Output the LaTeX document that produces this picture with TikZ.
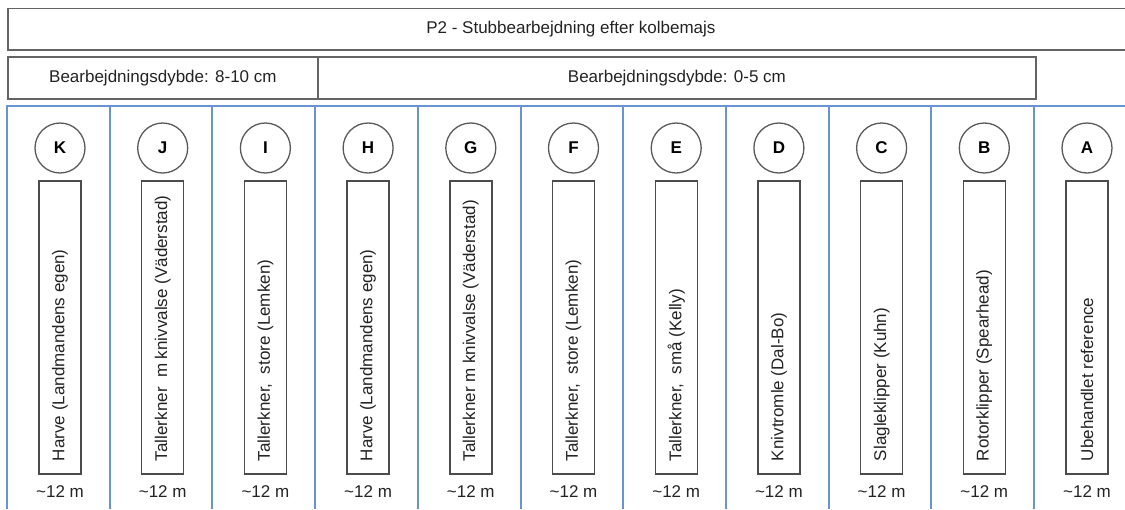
\documentclass[tikz,border=0pt]{standalone}
\usepackage{fontspec}
\setmainfont{Liberation Sans}
\definecolor{colblue}{RGB}{105,148,210}
\definecolor{boxgray}{RGB}{100,100,100}
\definecolor{txt}{RGB}{35,35,35}
\tikzset{
  graybox/.style={draw=boxgray, line width=1.8pt, inner sep=0pt, text=txt},
  colline/.style={draw=colblue, line width=2pt},
  circ/.style={circle, draw=black!65, line width=1.3pt, minimum size=50pt, inner sep=0pt, font=\fontsize{17}{20}\selectfont\bfseries, text=black},
  vbox/.style={draw=black!70, line width=1.4pt, rotate=90, minimum width=293pt, minimum height=42pt, inner ysep=0pt, inner xsep=13pt, text=txt},
  lenlbl/.style={inner sep=0pt, text=txt}
}
\begin{document}
\begin{tikzpicture}[x=1pt, y=-1pt, font=\fontsize{17}{20}\selectfont]
\useasboundingbox (0,0) rectangle (1125,509);
\clip (0,0) rectangle (1125,509);
% header rows
\node[graybox, minimum width=1126pt, minimum height=41.5pt, anchor=north west] (title) at (7,7.5) {P2 - Stubbearbejdning efter kolbemajs};
\node[graybox, minimum width=310pt, minimum height=42pt, anchor=north west] (depth1) at (7,56) {Bearbejdningsdybde: 8-10 cm};
\node[graybox, minimum width=718pt, minimum height=42pt, anchor=north west] (depth2) at (317,56) {Bearbejdningsdybde: 0-5 cm};
% column lines
\draw[colline] (7,509) -- (7,106) -- (1130,106);
\foreach \k in {1,...,10} {
  \draw[colline] ({7+102.7*\k},106) -- ({7+102.7*\k},509);
}
% columns
\foreach \L/\T [count=\i from 0] in {
  K/{Harve (Landmandens egen)},
  J/{Tallerkner\ \ m knivvalse (Väderstad)},
  I/{Tallerkner,\ \ store (Lemken)},
  H/{Harve (Landmandens egen)},
  G/{Tallerkner m knivvalse (Väderstad)},
  F/{Tallerkner,\ \ store (Lemken)},
  E/{Tallerkner,\ \ små (Kelly)},
  D/{Knivtromle (Dal-Bo)},
  C/{Slagleklipper (Kuhn)},
  B/{Rotorklipper (Spearhead)},
  A/{Ubehandlet reference}} {
  \pgfmathsetmacro{\cx}{7+102.7*\i+53}
  \node[circ] (c\L) at (\cx,148) {\L};
  \node[vbox] (r\L) at (\cx,327.5) {\makebox[267pt][l]{\T}};
  \node[lenlbl] (m\L) at (\cx,492) {\textasciitilde12 m};
}
\end{tikzpicture}
\end{document}
